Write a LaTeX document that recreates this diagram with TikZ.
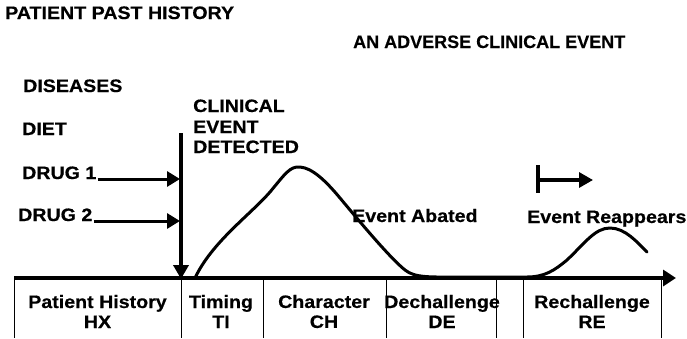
\documentclass[tikz,border=0pt]{standalone}
\usepackage{fontspec}
\newfontfamily\hf{Liberation Sans}[FakeStretch=1.09,FakeBold=0.5]
\newfontfamily\hfn{Liberation Sans}[FakeBold=0.3]
\usetikzlibrary{arrows.meta}
\begin{document}
\begin{tikzpicture}[x=1pt,y=-1pt,
  txt/.style={font=\hf\bfseries\fontsize{18}{18}\selectfont, inner sep=0pt, anchor=base west},
  cell/.style={font=\hf\bfseries\fontsize{18}{20}\selectfont, inner sep=0pt, align=center, anchor=center},
  thickarrow/.style={line width=3.8pt, -{Triangle[length=14pt,width=15pt]}},
  drugarrow/.style={line width=3pt, -{Triangle[length=13pt,width=15pt]}},
  sep/.style={line width=0.9pt},
  curve/.style={line width=3pt, line join=round, line cap=round}]
\useasboundingbox (0,0) rectangle (687,338);
% titles
\node[txt] (title) at (5,19) {PATIENT PAST HISTORY};
\node[txt, font=\hfn\bfseries\fontsize{18}{18}\selectfont] (adverse) at (353,48) {AN ADVERSE CLINICAL EVENT};
% left list
\node[txt] (dis) at (23,92) {DISEASES};
\node[txt] (diet) at (22,135) {DIET};
\node[txt] (drug1) at (22,179) {DRUG 1};
\node[txt] (drug2) at (18,221) {DRUG 2};
% clinical event detected
\node[txt] (cl1) at (193,112) {CLINICAL};
\node[txt] (cl2) at (193,133) {EVENT};
\node[txt] (cl3) at (193,153) {DETECTED};
% vertical detection line
\coordinate (vtop) at (181,133);
\coordinate (vbot) at (181,279);
\coordinate (d1t) at (180,179);
\coordinate (d2t) at (180,221);
\draw[thickarrow] (vtop) -- (vbot);
\draw[drugarrow] (drug1.base east) ++(1,0) -- (d1t);
\draw[drugarrow] (drug2.base east) ++(1,0) -- (d2t);
% axis
\coordinate (ax0) at (14,278);
\coordinate (ax1) at (676,278);
\draw[line width=4pt, -{Triangle[length=13pt,width=16pt]}] (ax0) -- (ax1);
% table separators
\foreach \x in {14,181,263,386,496,523,661}
  \draw[sep] (\x,278) -- (\x,338);
% table labels
\node[cell] (hx) at (97.5,311.5) {Patient History\\HX};
\node[cell] (ti) at (221,311.5) {Timing\\TI};
\node[cell] (ch) at (324,311.5) {Character\\CH};
\node[cell] (de) at (442,311.5) {Dechallenge\\DE};
\node[cell] (re) at (592,311.5) {Rechallenge\\RE};
% curve
\draw[curve] (195,278) .. controls (212,242) and (250,215) .. (270,192)
  .. controls (285,174) and (290,166) .. (300,167)
  .. controls (312,168) and (325,180) .. (340,198)
  .. controls (360,222) and (390,258) .. (405,270)
  .. controls (415,278) and (430,277) .. (460,277)
  -- (527,277)
  .. controls (545,277) and (555,270) .. (567,260)
  .. controls (585,243) and (595,228) .. (610,228)
  .. controls (625,228) and (637,242) .. (647,252);
% event labels
\node[txt] (abated) at (352,222) {Event Abated};
\node[txt] (reapp) at (527,223) {Event Reappears};
% bar arrow
\coordinate (bt) at (538,165);
\coordinate (bb) at (538,193);
\coordinate (bm) at (538,180);
\coordinate (be) at (593,180);
\draw[line width=3.5pt] (bt) -- (bb);
\draw[line width=3.2pt, -{Triangle[length=14pt,width=15pt]}] (bm) -- (be);
\end{tikzpicture}
\end{document}
